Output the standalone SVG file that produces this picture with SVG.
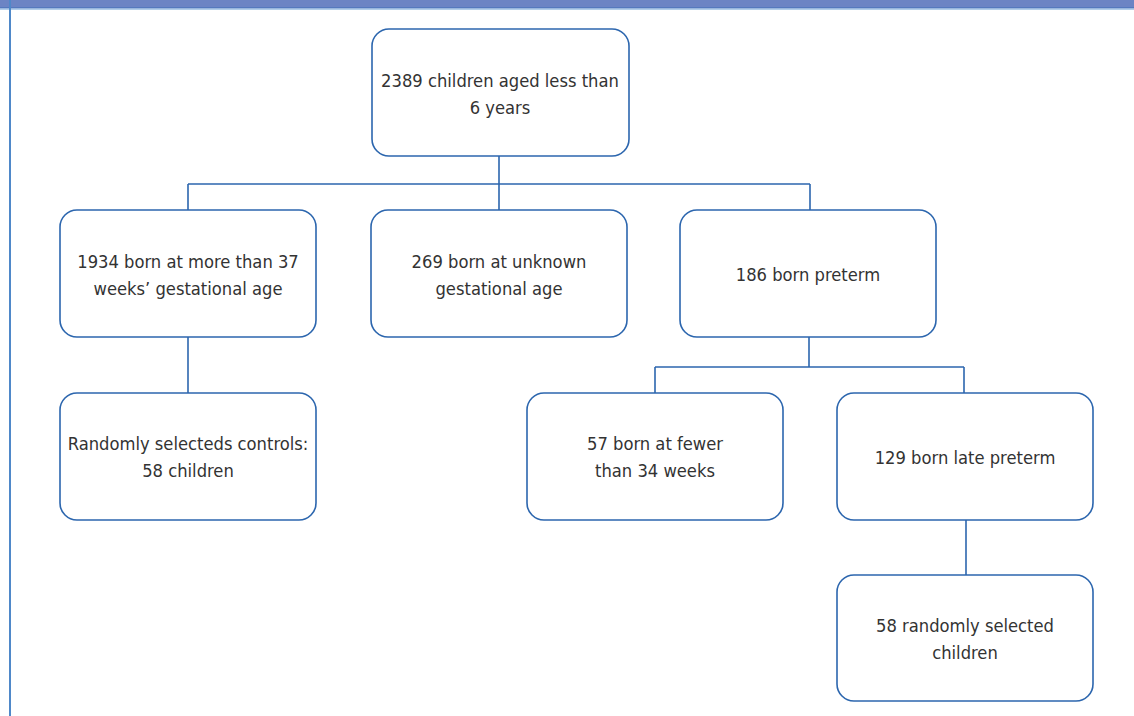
<svg xmlns="http://www.w3.org/2000/svg" width="1134" height="716" viewBox="0 0 1134 716">
<style>
.box{fill:#fff;stroke:#2c66ae;stroke-width:1.6}
.ln{fill:none;stroke:#2c66ae;stroke-width:1.6}
text{font-family:"DejaVu Sans Condensed","Liberation Sans",sans-serif;font-size:18.2px;fill:#333;text-anchor:middle}
</style>
<rect x="0" y="0" width="1134" height="716" fill="#fff"/>
<rect x="0" y="0" width="1134" height="8" fill="#6c84c4"/>
<line x1="0" y1="8" x2="1134" y2="8" stroke="#3f6fb8" stroke-width="1"/>
<line x1="0" y1="9.2" x2="1134" y2="9.2" stroke="#8fb7e0" stroke-width="1"/>
<line x1="10" y1="0" x2="10" y2="716" stroke="#4f88c9" stroke-width="2"/>
<g id="connectors">
<path class="ln" d="M499 156V210M188 184H810M188 184V210M499 184V210M810 184V210"/>
<path class="ln" d="M188 337V393"/>
<path class="ln" d="M809 337V367M655 367H964M655 367V393M964 367V393"/>
<path class="ln" d="M966 520V575"/>
</g>
<g id="n1"><rect class="box" x="372" y="29" width="257" height="127" rx="17"/><text x="500" y="87">2389 children aged less than</text><text x="500" y="114">6 years</text></g>
<g id="n2"><rect class="box" x="60" y="210" width="256" height="127" rx="17"/><text x="188" y="268">1934 born at more than 37</text><text x="188" y="295">weeks’ gestational age</text></g>
<g id="n3"><rect class="box" x="371" y="210" width="256" height="127" rx="17"/><text x="499" y="268">269 born at unknown</text><text x="499" y="295">gestational age</text></g>
<g id="n4"><rect class="box" x="680" y="210" width="256" height="127" rx="17"/><text x="808" y="281">186 born preterm</text></g>
<g id="n5"><rect class="box" x="60" y="393" width="256" height="127" rx="17"/><text x="188" y="450">Randomly selecteds controls:</text><text x="188" y="477">58 children</text></g>
<g id="n6"><rect class="box" x="527" y="393" width="256" height="127" rx="17"/><text x="655" y="450">57 born at fewer</text><text x="655" y="477">than 34 weeks</text></g>
<g id="n7"><rect class="box" x="837" y="393" width="256" height="127" rx="17"/><text x="965" y="464">129 born late preterm</text></g>
<g id="n8"><rect class="box" x="837" y="575" width="256" height="126" rx="17"/><text x="965" y="632">58 randomly selected</text><text x="965" y="659">children</text></g>
</svg>
